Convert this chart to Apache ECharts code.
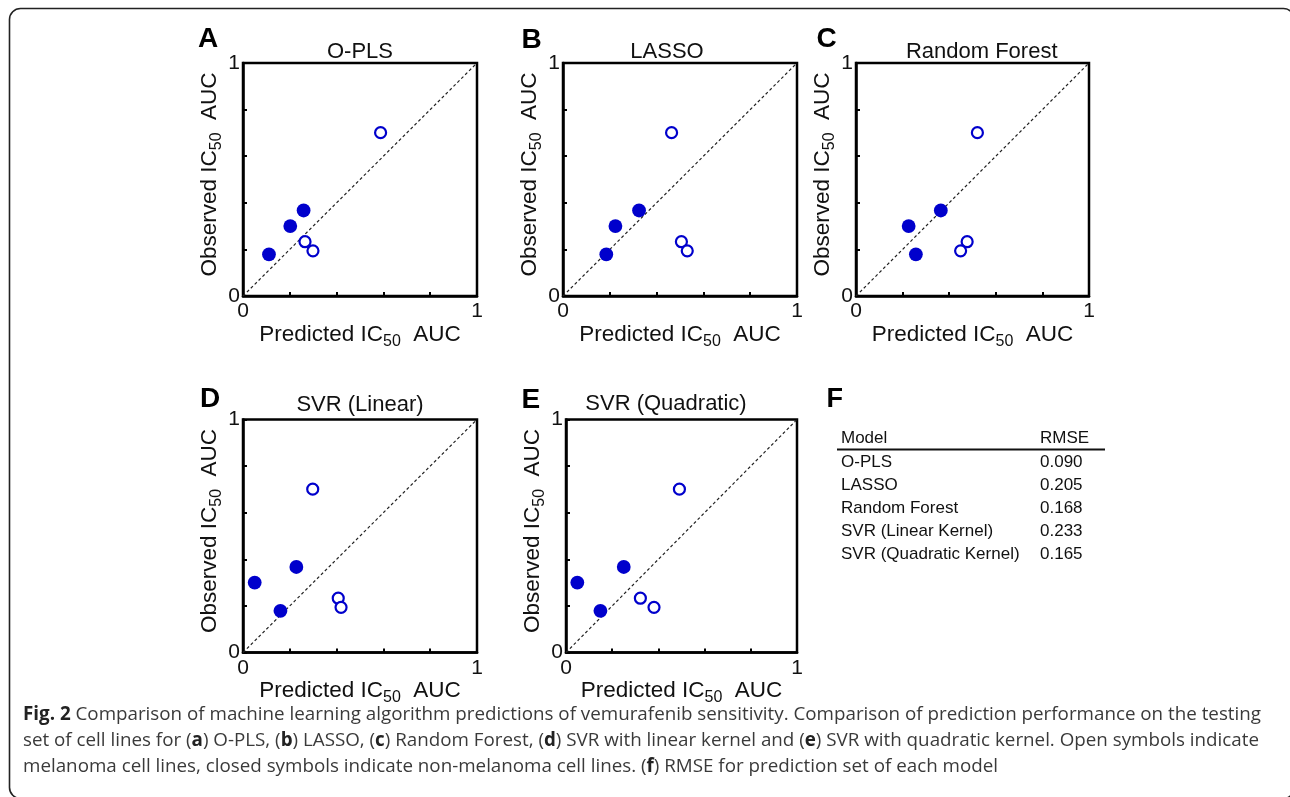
<!DOCTYPE html>
<html>
<head>
<meta charset="utf-8">
<script src="https://cdn.jsdelivr.net/npm/echarts@6/dist/echarts.min.js"></script>
<style>
html,body{margin:0;padding:0;background:#fff;}
#chart{width:1290px;height:797px;}
</style>
</head>
<body>
<div id="chart"></div>
<script>
// ---- data ----
const panelLetters = ['A', 'B', 'C', 'D', 'E'];
const panelTitles = ['O-PLS', 'LASSO', 'Random Forest', 'SVR (Linear)', 'SVR (Quadratic)'];
// observed AUC of the six test cell lines (same in every panel)
const observed = [0.701, 0.367, 0.300, 0.179, 0.233, 0.194];
// true = melanoma (open symbol), false = non-melanoma (closed symbol)
const melanoma = [true, false, false, false, true, true];
const predOPLS = [0.588, 0.259, 0.202, 0.111, 0.265, 0.299];
const predLASSO = [0.464, 0.325, 0.224, 0.185, 0.506, 0.531];
const predRF = [0.521, 0.364, 0.226, 0.257, 0.477, 0.449];
const predSVRLinear = [0.298, 0.228, 0.050, 0.160, 0.407, 0.419];
const predSVRQuad = [0.491, 0.250, 0.049, 0.149, 0.322, 0.381];
const predictions = [predOPLS, predLASSO, predRF, predSVRLinear, predSVRQuad];
const identityLine = [[0, 0], [1, 1]];
const axisTickLabels = [0, 1];
const tableModels = ['O-PLS', 'LASSO', 'Random Forest', 'SVR (Linear Kernel)', 'SVR (Quadratic Kernel)'];
const tableRMSE = ['0.090', '0.205', '0.168', '0.233', '0.165'];
const captionLines = [
  '{b|Fig. 2} Comparison of machine learning algorithm predictions of vemurafenib sensitivity. Comparison of prediction performance on the testing',
  'set of cell lines for ({b|a}) O-PLS, ({b|b}) LASSO, ({b|c}) Random Forest, ({b|d}) SVR with linear kernel and ({b|e}) SVR with quadratic kernel. Open symbols indicate',
  'melanoma cell lines, closed symbols indicate non-melanoma cell lines. ({b|f}) RMSE for prediction set of each model'
];

// ---- layout ----
const FONT = 'Liberation Sans, Arial, sans-serif';
const CAPFONT = 'Open Sans, sans-serif';
const BLUE = '#0000cc';
const grids = [
  {left: 243, top: 63, width: 234, height: 233},
  {left: 563, top: 63, width: 234, height: 233},
  {left: 856, top: 63, width: 233, height: 233},
  {left: 243, top: 419.5, width: 234, height: 233},
  {left: 566, top: 419.5, width: 231, height: 233}
];
const letterPos = [[198, 39.5], [521.5, 40], [816.5, 39], [200, 399], [521.5, 400]];
const titlePos = [[360, 51.7], [667, 51.7], [981.7, 51.7], [360, 404.8], [666, 404]];

const chart = echarts.init(document.getElementById('chart'), null, {renderer: 'canvas'});

const richName = {
  a: {fontFamily: FONT, fontSize: 22.5, lineHeight: 30, color: '#111'},
  s: {fontFamily: FONT, fontSize: 16, lineHeight: 17, verticalAlign: 'bottom', color: '#111'}
};
function labelFmt(v) {
  return axisTickLabels.some(t => Math.abs(t - v) < 1e-6) ? String(Math.round(v)) : '';
}
function makeAxis(i, isX) {
  return {
    type: 'value', gridIndex: i, min: 0, max: 1, interval: 0.2,
    name: isX ? '{a|Predicted IC}{s|50}{a|  AUC}' : '{a|Observed IC}{s|50}{a|  AUC}',
    nameLocation: 'middle',
    nameGap: isX ? 15.5 : 7,
    nameTextStyle: {rich: richName, padding: isX ? 0 : [0, 0, 0, 10]},
    axisLine: {show: true, lineStyle: {color: '#000', width: 2.5}},
    axisTick: {show: true, inside: true, length: 4, lineStyle: {color: '#000', width: 2}},
    axisLabel: {
      show: true, formatter: labelFmt, margin: isX ? 5 : 3,
      fontFamily: FONT, fontSize: 21, color: '#111',
      showMinLabel: true, showMaxLabel: true, hideOverlap: false
    },
    splitLine: {show: false}
  };
}

const series = [];
predictions.forEach((pred, i) => {
  series.push({
    type: 'line', xAxisIndex: i, yAxisIndex: i, data: identityLine,
    symbol: 'none', silent: true, z: 1,
    lineStyle: {color: '#222', width: 1.2, type: [3, 2.5], opacity: 1}
  });
  const filled = [], open = [];
  pred.forEach((p, k) => {
    (melanoma[k] ? open : filled).push([p, observed[k]]);
  });
  series.push({
    type: 'scatter', xAxisIndex: i, yAxisIndex: i, data: filled,
    symbol: 'circle', symbolSize: 13.8, z: 3,
    itemStyle: {color: BLUE, opacity: 1}
  });
  series.push({
    type: 'scatter', xAxisIndex: i, yAxisIndex: i, data: open,
    symbol: 'circle', symbolSize: 11, z: 3,
    itemStyle: {color: '#fff', borderColor: BLUE, borderWidth: 2.2, opacity: 1}
  });
});

const graphics = [];
// outer rounded frame
graphics.push({
  type: 'rect', shape: {x: 9.5, y: 8.5, width: 1285, height: 790, r: 11},
  style: {fill: 'none', stroke: '#222', lineWidth: 1.6}, silent: true
});
panelLetters.forEach((L, i) => {
  graphics.push({type: 'text', x: letterPos[i][0], y: letterPos[i][1],
    style: {text: L, font: 'bold 28px ' + FONT, fill: '#000', verticalAlign: 'middle', align: 'left'}});
  graphics.push({type: 'text', x: titlePos[i][0], y: titlePos[i][1],
    style: {text: panelTitles[i], font: '22px ' + FONT, fill: '#111', verticalAlign: 'middle', align: 'center'}});
});
// panel F: table
graphics.push({type: 'text', x: 826.5, y: 400,
  style: {text: 'F', font: 'bold 27px ' + FONT, fill: '#000', verticalAlign: 'middle', align: 'left'}});
graphics.push({type: 'text', x: 841, y: 438.7,
  style: {text: 'Model', font: '17px ' + FONT, fill: '#111', verticalAlign: 'middle', align: 'left'}});
graphics.push({type: 'text', x: 1040, y: 438.7,
  style: {text: 'RMSE', font: '17px ' + FONT, fill: '#111', verticalAlign: 'middle', align: 'left'}});
graphics.push({type: 'line', shape: {x1: 837, y1: 449.5, x2: 1105, y2: 449.5},
  style: {stroke: '#111', lineWidth: 2}});
tableModels.forEach((m, k) => {
  const y = 462.7 + k * 22.8;
  graphics.push({type: 'text', x: 841, y: y,
    style: {text: m, font: '17px ' + FONT, fill: '#111', verticalAlign: 'middle', align: 'left'}});
  graphics.push({type: 'text', x: 1040, y: y,
    style: {text: tableRMSE[k], font: '17px ' + FONT, fill: '#111', verticalAlign: 'middle', align: 'left'}});
});
// caption
captionLines.forEach((line, k) => {
  graphics.push({type: 'text', x: 23, y: 714.8 + k * 25.8,
    style: {text: line, fontFamily: CAPFONT, fontSize: 18.8, fill: '#3a3a3a', verticalAlign: 'middle', align: 'left',
      rich: {b: {fontFamily: CAPFONT, fontSize: 18.8, fontWeight: 'bold', fill: '#222', color: '#222'}}}});
});

chart.setOption({
  animation: false,
  backgroundColor: '#fff',
  grid: grids.map(g => Object.assign({show: true, borderColor: '#000', borderWidth: 2.5, backgroundColor: 'transparent', containLabel: false}, g)),
  xAxis: grids.map((g, i) => makeAxis(i, true)),
  yAxis: grids.map((g, i) => makeAxis(i, false)),
  series: series,
  graphic: graphics
});
</script>
</body>
</html>
